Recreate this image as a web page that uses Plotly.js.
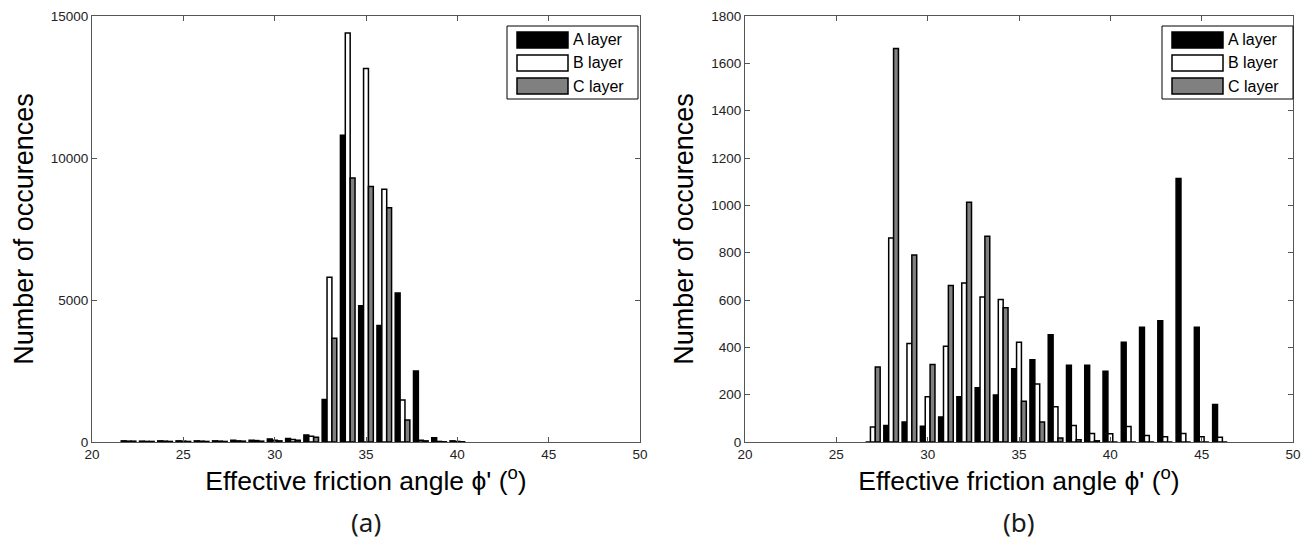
<!DOCTYPE html>
<html><head><meta charset="utf-8">
<script src="https://cdn.plot.ly/plotly-3.0.1.min.js"></script>
<style>html,body{margin:0;padding:0;background:#fff}#chart{width:1313px;height:552px}</style>
</head><body><div id="chart"></div>
<script>
// ---- data (a) ----
const binsLeft = [22,23,24,25,26,27,28,29,30,31,32,33,34,35,36,37,38,39,40];
const leftA = [40,30,40,40,40,40,60,60,110,120,250,1500,10800,4800,4100,5250,2500,150,40];
const leftB = [30,20,30,30,30,30,40,50,60,90,200,5800,14400,13150,8900,1480,60,20,20];
const leftC = [30,20,20,20,20,20,30,30,40,60,170,3650,9300,9000,8250,775,40,10,10];
// ---- data (b) ----
const binsRight = [27,28,29,30,31,32,33,34,35,36,37,38,39,40,41,42,43,44,45,46];
const rightA = [0,70,84,67,106,191,229,199,309,348,453,324,324,299,421,485,512,1113,485,158];
const rightB = [63,862,416,191,405,672,613,602,421,245,149,70,36,35,65,27,22,36,22,20];
const rightC = [317,1663,790,327,661,1013,869,567,172,84,17,10,5,0,0,0,0,0,0,0];

const seriesNames = ['A layer','B layer','C layer'];
const seriesFill = ['#000000','#ffffff','#808080'];
const xTicks = [20,25,30,35,40,45,50];
const xTitle = "Effective friction angle \u03d5' (<sup>o</sup>)";
const yTitle = 'Number of occurences';
const panelLabels = ['(a)','(b)'];

const W = 1313, H = 552;
const px = v => v / W;
const py = v => 1 - v / H;

function mk(x, y, i, xa, ya) {
  return {type:'bar', x:x, y:y, name:seriesNames[i], xaxis:xa, yaxis:ya, showlegend:false,
    marker:{color:seriesFill[i], line:{color:'#000', width:1.5}}, hoverinfo:'x+y+name'};
}
const traces = [
  mk(binsLeft, leftA, 0, 'x', 'y'), mk(binsLeft, leftB, 1, 'x', 'y'), mk(binsLeft, leftC, 2, 'x', 'y'),
  mk(binsRight, rightA, 0, 'x2', 'y2'), mk(binsRight, rightB, 1, 'x2', 'y2'), mk(binsRight, rightC, 2, 'x2', 'y2')
];

const axCommon = {showline:true, linecolor:'#555', linewidth:1, mirror:'ticks', ticks:'inside', ticklen:5,
  tickcolor:'#555', showgrid:false, zeroline:false, tickfont:{size:13.5, color:'#222'},
  tickformat:'d', separatethousands:false, exponentformat:'none'};
const yDom = [py(442), py(16)];

// custom legends
const shapes = [], annotations = [];
function legend(x0, x1) {
  const y0 = 26, y1 = 99;
  shapes.push({type:'rect', xref:'paper', yref:'paper', x0:px(x0), x1:px(x1), y0:py(y1), y1:py(y0),
    line:{color:'#000', width:1}, fillcolor:'#fff'});
  seriesNames.forEach((n, i) => {
    const cy = 40 + i * 23;
    shapes.push({type:'rect', xref:'paper', yref:'paper', x0:px(x0 + 10), x1:px(x0 + 61),
      y0:py(cy + 8), y1:py(cy - 8), line:{color:'#000', width:1.5}, fillcolor:seriesFill[i]});
    annotations.push({xref:'paper', yref:'paper', x:px(x0 + 64), y:py(cy), xanchor:'left', yanchor:'middle',
      text:n, showarrow:false, font:{size:16, color:'#000'}});
  });
}
legend(507, 638);
legend(1162, 1293);
annotations.push({xref:'paper', yref:'paper', x:px(366), y:py(522), text:panelLabels[0], showarrow:false,
  xanchor:'center', yanchor:'middle', font:{family:'Noto Sans, Open Sans', size:26, color:'#1a1a1a'}});
annotations.push({xref:'paper', yref:'paper', x:px(1019), y:py(522), text:panelLabels[1], showarrow:false,
  xanchor:'center', yanchor:'middle', font:{family:'Noto Sans, Open Sans', size:26, color:'#1a1a1a'}});

const layout = {
  width:W, height:H, margin:{l:0, r:0, t:0, b:0}, paper_bgcolor:'#fff', plot_bgcolor:'#fff',
  font:{family:'Liberation Sans, Arial, sans-serif', color:'#000'},
  barmode:'group', bargap:0.2, bargroupgap:0,
  xaxis:Object.assign({}, axCommon, {domain:[px(92), px(640)], anchor:'y', range:[20,50], tickvals:xTicks,
    title:{text:xTitle, font:{size:26.5}, standoff:5}}),
  yaxis:Object.assign({}, axCommon, {domain:yDom, anchor:'x', range:[0,15000], dtick:5000,
    title:{text:yTitle, font:{size:27}, standoff:9}}),
  xaxis2:Object.assign({}, axCommon, {domain:[px(745), px(1293)], anchor:'y2', range:[20,50], tickvals:xTicks,
    title:{text:xTitle, font:{size:26.5}, standoff:5}}),
  yaxis2:Object.assign({}, axCommon, {domain:yDom, anchor:'x2', range:[0,1800], dtick:200,
    title:{text:yTitle, font:{size:27}, standoff:9}}),
  shapes:shapes, annotations:annotations
};
Plotly.newPlot('chart', traces, layout, {staticPlot:true, displayModeBar:false});
</script></body></html>
